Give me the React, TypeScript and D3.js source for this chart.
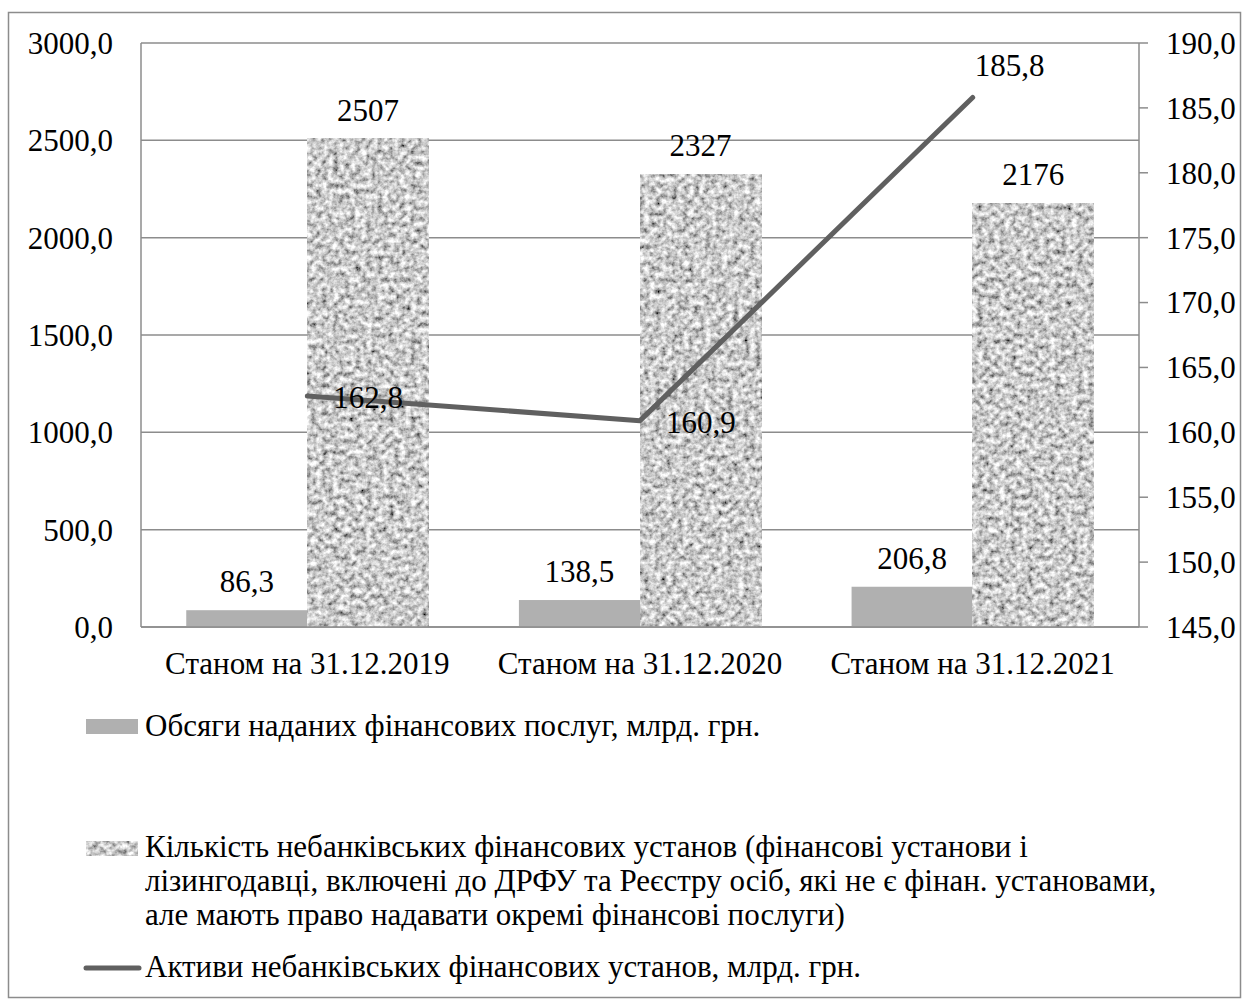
import * as d3 from "d3";

const categories = [
  "Станом на 31.12.2019",
  "Станом на 31.12.2020",
  "Станом на 31.12.2021",
];
const servicesVolume = [86.3, 138.5, 206.8];
const institutionsCount = [2507, 2327, 2176];
const assets = [162.8, 160.9, 185.8];
const leftTicks = [0, 500, 1000, 1500, 2000, 2500, 3000];
const rightTicks = [145, 150, 155, 160, 165, 170, 175, 180, 185, 190];

const legendServices = "Обсяги наданих фінансових послуг, млрд. грн.";
const legendCount = [
  "Кількість небанківських фінансових установ (фінансові установи і",
  "лізингодавці, включені до ДРФУ та Реєстру осіб, які не є фінан. установами,",
  "але мають право надавати окремі фінансові послуги)",
];
const legendAssets = "Активи небанківських фінансових установ, млрд. грн.";

const W = 1246;
const H = 1000;
const PLOT = { left: 141, right: 1139, top: 43, bottom: 627 };
const FONT =
  "'Liberation Serif', 'Times New Roman', Tinos, 'DejaVu Serif', 'Noto Serif', serif";
const FS = 31;
const GRID = "#8c8c8c";
const BAR_GREY = "#b0b0b0";
const LINE_GREY = "#606060";

const fmt1 = (v: number) => v.toFixed(1).replace(".", ",");

export default function App() {
  const x = d3
    .scaleBand<string>()
    .domain(categories)
    .range([PLOT.left, PLOT.right])
    .paddingInner(0.272)
    .paddingOuter(0.136);
  const inner = d3
    .scaleBand<string>()
    .domain(["services", "count"])
    .range([0, x.bandwidth()]);
  const yL = d3.scaleLinear().domain([0, 3000]).range([PLOT.bottom, PLOT.top]);
  const yR = d3.scaleLinear().domain([145, 190]).range([PLOT.bottom, PLOT.top]);

  const cx = (c: string) => (x(c) ?? 0) + x.bandwidth() / 2;
  const linePts: [number, number][] = categories.map((c, i) => [
    cx(c),
    yR(assets[i]),
  ]);
  const lineGen = d3.line();

  const txt = { fontFamily: FONT, fontSize: FS } as const;

  return (
    <svg
      width={W}
      height={H}
      style={{ position: "absolute", left: 0, top: 0, background: "#fff" }}
    >
      <defs>
        {/* grainy fill used by the count bars */}
        <filter
          id="noise"
          x="0"
          y="0"
          width="1"
          height="1"
          filterUnits="objectBoundingBox"
        >
          <feTurbulence
            type="fractalNoise"
            baseFrequency="0.18"
            numOctaves={3}
            seed={11}
          />
          <feColorMatrix
            type="matrix"
            values="1.5 0 0 0 -0.15  1.5 0 0 0 -0.15  1.5 0 0 0 -0.15  0 0 0 0 1"
          />
        </filter>
      </defs>

      {/* outer frame */}
      <rect
        x={8.5}
        y={12.5}
        width={1232}
        height={985}
        fill="#fff"
        stroke={GRID}
        strokeWidth={1.5}
      />

      {/* gridlines */}
      {leftTicks.map((t) => (
        <line
          key={t}
          x1={PLOT.left}
          x2={PLOT.right}
          y1={yL(t)}
          y2={yL(t)}
          stroke={GRID}
          strokeWidth={1.5}
        />
      ))}
      <line
        x1={PLOT.left}
        x2={PLOT.left}
        y1={PLOT.top}
        y2={PLOT.bottom}
        stroke={GRID}
        strokeWidth={1.5}
      />
      <line
        x1={PLOT.right}
        x2={PLOT.right}
        y1={PLOT.top}
        y2={PLOT.bottom}
        stroke={GRID}
        strokeWidth={1.5}
      />

      <g style={txt}>
        {/* left axis labels */}
        {leftTicks.map((t) => (
          <text key={t} x={113} y={yL(t)} dy="0.35em" textAnchor="end">
            {fmt1(t)}
          </text>
        ))}

        {/* right axis ticks + labels */}
        {rightTicks.map((t) => (
          <g key={t}>
            <line
              x1={PLOT.right}
              x2={PLOT.right + 9}
              y1={yR(t)}
              y2={yR(t)}
              stroke={GRID}
              strokeWidth={1.5}
            />
            <text x={1166} y={yR(t)} dy="0.35em">
              {fmt1(t)}
            </text>
          </g>
        ))}

        {/* bars */}
        {categories.map((c, i) => {
          const x0 = x(c) ?? 0;
          const bw = inner.bandwidth();
          const xs = x0 + (inner("services") ?? 0);
          const xc = x0 + (inner("count") ?? 0);
          return (
            <g key={c}>
              <rect
                x={xs}
                y={yL(servicesVolume[i])}
                width={bw}
                height={PLOT.bottom - yL(servicesVolume[i])}
                fill={BAR_GREY}
              />
              <rect
                x={xc}
                y={yL(institutionsCount[i])}
                width={bw}
                height={PLOT.bottom - yL(institutionsCount[i])}
                fill="#aaa"
                filter="url(#noise)"
              />
              <text
                x={xs + bw / 2}
                y={yL(servicesVolume[i]) - 18}
                textAnchor="middle"
              >
                {fmt1(servicesVolume[i])}
              </text>
              <text
                x={xc + bw / 2}
                y={yL(institutionsCount[i]) - 18}
                textAnchor="middle"
              >
                {institutionsCount[i]}
              </text>
            </g>
          );
        })}

        {/* x axis line */}
        <line
          x1={PLOT.left}
          x2={PLOT.right}
          y1={PLOT.bottom}
          y2={PLOT.bottom}
          stroke={GRID}
          strokeWidth={1.5}
        />

        {/* assets line */}
        <path
          d={lineGen(linePts) ?? ""}
          fill="none"
          stroke={LINE_GREY}
          strokeWidth={5}
          strokeLinecap="round"
          strokeLinejoin="round"
        />
        {linePts.map(([px, py], i) => {
          const last = i === linePts.length - 1;
          return (
            <text
              key={i}
              x={last ? px + 2 : px + 26}
              y={last ? py - 22 : py + 12}
            >
              {fmt1(assets[i])}
            </text>
          );
        })}

        {/* x labels */}
        {categories.map((c) => (
          <text key={c} x={cx(c)} y={674} textAnchor="middle">
            {c}
          </text>
        ))}

        {/* legend */}
        <rect x={86} y={719} width={52} height={15} fill={BAR_GREY} />
        <text x={145} y={736}>
          {legendServices}
        </text>

        <rect
          x={86}
          y={841}
          width={52}
          height={15}
          fill="#aaa"
          filter="url(#noise)"
        />
        {legendCount.map((s, i) => (
          <text key={i} x={145} y={857 + i * 34}>
            {s}
          </text>
        ))}

        <line
          x1={86}
          x2={139}
          y1={968}
          y2={968}
          stroke={LINE_GREY}
          strokeWidth={5}
          strokeLinecap="round"
        />
        <text x={145} y={977}>
          {legendAssets}
        </text>
      </g>
    </svg>
  );
}
